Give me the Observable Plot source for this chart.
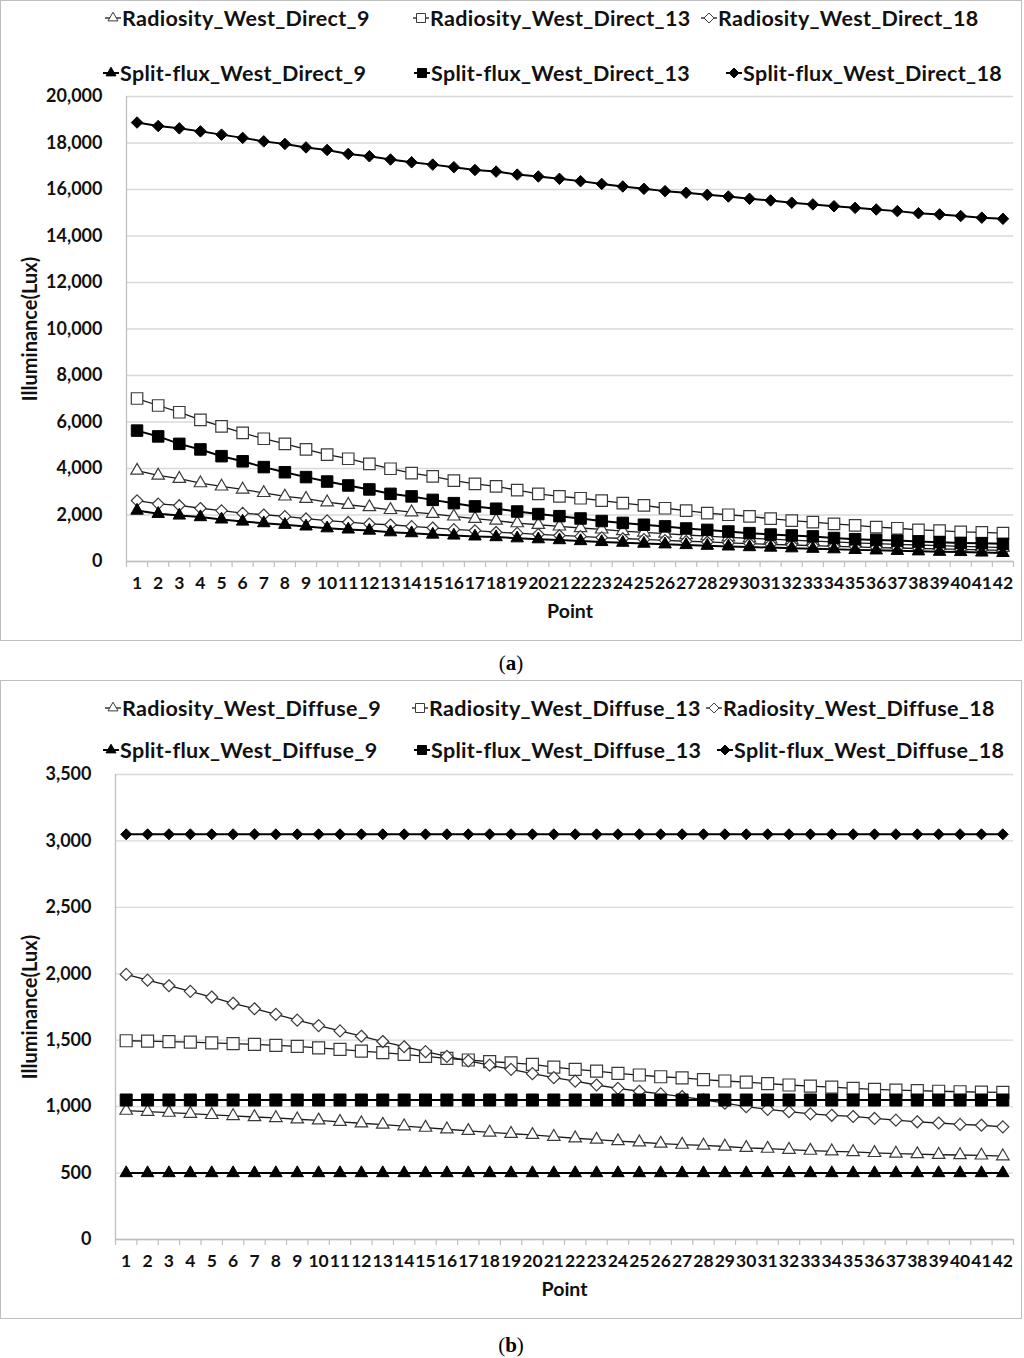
<!DOCTYPE html>
<html>
<head>
<meta charset="utf-8">
<script src="https://cdn.jsdelivr.net/npm/d3@7"></script>
<script src="https://cdn.jsdelivr.net/npm/@observablehq/plot@0.6"></script>
<style>
  body { margin: 0; background: #fff; font-family: Lato, "Open Sans", sans-serif; }
  .panel { position: absolute; left: 0; width: 1020px; border: 1px solid #bdbdbd; background: #fff; }
  .legend { position: relative; width: 1020px; }
  .item { position: absolute; display: flex; align-items: center; height: 24px; font-weight: 700; font-size: 21.5px; letter-spacing: 0.3px; color: #111; white-space: nowrap; }
  .item svg { display: block; flex: none; }
  .caption { position: absolute; left: 0; width: 1022px; text-align: center; font-family: "Liberation Serif", "DejaVu Serif", serif; font-size: 21px; line-height: 24px; color: #000; }
  .plotwrap svg { display: block; overflow: visible; }
</style>
</head>
<body>
<div class="panel" style="top:0;height:639px">
  <div class="legend" id="legendA" style="height:85px"></div>
  <div class="plotwrap" id="chartA"></div>
</div>
<div class="caption" style="top:651px">(<b>a</b>)</div>
<div class="panel" style="top:680px;height:637px">
  <div class="legend" id="legendB" style="height:80px"></div>
  <div class="plotwrap" id="chartB"></div>
</div>
<div class="caption" style="top:1333px">(<b>b</b>)</div>

<script>
// ---------------- DATA ----------------
const pointLabels = ["1","2","3","4","5","6","7","8","9","10","11","12","13","14","15","16","17","18","19","20","21",
  "22","23","24","25","26","27","28","29","30","31","32","33","34","35","36","37","38","39","40","41","42"];
const points = pointLabels.map(Number);

const yTicksDirect = [0, 2000, 4000, 6000, 8000, 10000, 12000, 14000, 16000, 18000, 20000];
const yTicksDiffuse = [0, 500, 1000, 1500, 2000, 2500, 3000, 3500];

const namesDirect = ["Radiosity_West_Direct_9", "Radiosity_West_Direct_13", "Radiosity_West_Direct_18",
  "Split-flux_West_Direct_9", "Split-flux_West_Direct_13", "Split-flux_West_Direct_18"];
const namesDiffuse = ["Radiosity_West_Diffuse_9", "Radiosity_West_Diffuse_13", "Radiosity_West_Diffuse_18",
  "Split-flux_West_Diffuse_9", "Split-flux_West_Diffuse_13", "Split-flux_West_Diffuse_18"];

// (a) Direct
const radDirect9 = [3910,3700,3560,3370,3230,3100,2950,2800,2700,2550,2440,2340,2220,2120,2050,1940,1840,1760,1650,1580,1510,
  1440,1380,1310,1250,1200,1140,1090,1040,1000,960,920,880,840,800,770,740,710,680,650,630,600];
const radDirect13 = [7010,6710,6420,6090,5810,5530,5280,5060,4820,4600,4420,4200,3990,3800,3660,3480,3340,3230,3070,2910,2800,
  2720,2620,2510,2410,2290,2190,2080,2010,1940,1840,1760,1690,1620,1550,1480,1430,1360,1330,1270,1250,1220];
const radDirect18 = [2620,2480,2410,2290,2190,2080,2010,1940,1840,1760,1690,1620,1580,1510,1450,1380,1330,1260,1220,1170,1120,
  1080,1030,990,950,910,870,840,800,770,740,710,680,650,630,600,580,560,540,520,500,480];
const splitDirect9 = [2190,2050,1980,1910,1810,1720,1650,1580,1510,1430,1380,1330,1260,1220,1160,1120,1080,1050,1000,960,920,
  880,840,810,770,740,710,680,650,620,600,570,550,530,500,480,460,440,420,410,390,370];
const splitDirect13 = [5630,5380,5060,4820,4530,4310,4060,3840,3630,3440,3270,3100,2910,2800,2650,2510,2370,2270,2150,2040,1950,
  1850,1740,1660,1580,1510,1420,1360,1290,1220,1160,1120,1080,1010,960,930,900,860,830,800,790,760];
const splitDirect18 = [18880,18730,18630,18500,18360,18220,18070,17960,17810,17700,17530,17430,17290,17170,17070,16960,16840,16770,16640,16560,16460,
  16360,16240,16130,16030,15930,15860,15770,15700,15600,15530,15430,15360,15280,15210,15140,15070,14980,14930,14860,14790,14740];

// (b) Diffuse
const radDiffuse9 = [970,962,955,947,938,930,922,915,905,897,886,875,865,853,842,830,818,806,796,788,774,
  762,752,741,732,722,714,708,700,690,684,676,669,664,659,652,647,643,638,636,633,627];
const radDiffuse13 = [1496,1493,1490,1486,1480,1474,1468,1461,1453,1443,1431,1418,1406,1393,1378,1364,1351,1339,1330,1318,1298,
  1281,1267,1251,1238,1225,1216,1204,1193,1184,1173,1163,1155,1147,1138,1130,1125,1121,1116,1112,1110,1107];
const radDiffuse18 = [1995,1952,1910,1868,1825,1778,1737,1695,1651,1610,1570,1530,1490,1451,1414,1378,1345,1313,1281,1248,1218,
  1192,1163,1138,1116,1096,1076,1052,1026,1000,980,962,946,935,926,911,898,886,877,866,860,848];
const splitDiffuse9 = [500,500,500,500,500,500,500,500,500,500,500,500,500,500,500,500,500,500,500,500,500,
  500,500,500,500,500,500,500,500,500,500,500,500,500,500,500,500,500,500,500,500,500];
const splitDiffuse13 = [1050,1050,1050,1050,1050,1050,1050,1050,1050,1050,1050,1050,1050,1050,1050,1050,1050,1050,1050,1050,1050,
  1050,1050,1050,1050,1050,1050,1050,1050,1050,1050,1050,1050,1050,1050,1050,1050,1050,1050,1050,1050,1050];
const splitDiffuse18 = [3050,3050,3050,3050,3050,3050,3050,3050,3050,3050,3050,3050,3050,3050,3050,3050,3050,3050,3050,3050,3050,
  3050,3050,3050,3050,3050,3050,3050,3050,3050,3050,3050,3050,3050,3050,3050,3050,3050,3050,3050,3050,3050];

// ---------------- STYLES ----------------
const seriesStyles = [
  {symbol: "triangle", fill: "#fff", stroke: "#3a3a3a", line: "#1a1a1a", lineWidth: 1.3},
  {symbol: "square",   fill: "#fff", stroke: "#3a3a3a", line: "#1a1a1a", lineWidth: 1.3},
  {symbol: "diamond2", fill: "#fff", stroke: "#3a3a3a", line: "#1a1a1a", lineWidth: 1.3},
  {symbol: "triangle", fill: "#000", stroke: "#000", line: "#000", lineWidth: 2},
  {symbol: "square",   fill: "#000", stroke: "#000", line: "#000", lineWidth: 2},
  {symbol: "diamond2", fill: "#000", stroke: "#000", line: "#000", lineWidth: 2}
];
const d3Symbols = {triangle: d3.symbolTriangle, square: d3.symbolSquare, diamond2: d3.symbolDiamond2};

// marker "width" in px -> d3 symbol area
function symbolArea(symbol, w) {
  if (symbol === "triangle") return w * w * Math.sqrt(3) / 4;
  if (symbol === "square") return w * w;
  return Math.pow(w / 1.2525, 2); // diamond2 diagonal
}
const radiusFor = (symbol, w) => Math.sqrt(symbolArea(symbol, w) / Math.PI);

// ---------------- LEGEND ----------------
function buildLegend(el, names, pos) {
  names.forEach((name, i) => {
    const st = seriesStyles[i];
    const [mx, cy] = pos[i];
    const item = d3.select(el).append("div").attr("class", "item")
      .style("left", (mx - 10) + "px").style("top", (cy - 12) + "px");
    const svg = item.append("svg").attr("width", 19).attr("height", 24);
    svg.append("line").attr("x1", 2).attr("x2", 18).attr("y1", 12).attr("y2", 12)
      .attr("stroke", st.line).attr("stroke-width", st.lineWidth);
    const w = st.symbol === "square" ? 9 : 10;
    svg.append("path").attr("transform", "translate(10,12)")
      .attr("d", d3.symbol(d3Symbols[st.symbol], symbolArea(st.symbol, w))())
      .attr("fill", st.fill).attr("stroke", st.stroke).attr("stroke-width", 1);
    item.append("span").text(name);
  });
}
buildLegend(document.getElementById("legendA"), namesDirect,
  [[112, 17], [420, 17], [708, 17], [110, 72], [421, 72], [733, 72]]);
buildLegend(document.getElementById("legendB"), namesDiffuse,
  [[112, 27], [419, 27], [713, 27], [110, 69], [421, 69], [724, 69]]);

// ---------------- CHARTS ----------------
const boundaries = d3.range(0.5, 43, 1);

function chart({names, values, yTicks, height, ml, mr, mt, mb, sizes, ylabelDx}) {
  const marks = [
    Plot.gridY(yTicks, {stroke: "#d9d9d9", strokeOpacity: 1, strokeWidth: 1.3}),
    Plot.ruleX([0.5], {stroke: "#bfbfbf", strokeWidth: 1.3}),
    Plot.ruleY([0], {stroke: "#bfbfbf", strokeWidth: 1.3}),
    Plot.axisX(boundaries, {tickSize: 6, tickFormat: () => "", stroke: "#bfbfbf", strokeWidth: 1.2, label: null}),
    Plot.axisX(points, {tickSize: 0, tickPadding: 15, tickFormat: d => pointLabels[d - 1],
      fontSize: 17.5, fontWeight: "bold", fill: "#111", label: null}),
    Plot.axisY(yTicks, {tickSize: 0, tickPadding: 24, tickFormat: d3.format(","),
      fontSize: 18, fontWeight: "bold", fill: "#111", label: null}),
    Plot.text(["Illuminance(Lux)"], {text: d => d, frameAnchor: "left", rotate: -90, dx: ylabelDx,
      fontSize: 20, fontWeight: "bold", fill: "#111", textAnchor: "middle"}),
    Plot.text(["Point"], {text: d => d, frameAnchor: "bottom", dy: 56,
      fontSize: 19.5, fontWeight: "bold", fill: "#111", textAnchor: "middle"})
  ];
  names.forEach((name, i) => {
    const st = seriesStyles[i];
    const rows = values[i].map((v, j) => ({point: points[j], value: v, series: name}));
    marks.push(Plot.line(rows, {x: "point", y: "value", stroke: st.line, strokeWidth: st.lineWidth}));
    marks.push(Plot.dot(rows, {x: "point", y: "value", symbol: () => st.symbol,
      r: radiusFor(st.symbol, sizes[st.symbol] + (i === 5 ? sizes.d18adj : 0)),
      fill: st.fill, stroke: st.stroke, strokeWidth: st.fill === "#fff" ? 1.2 : 1}));
  });
  return Plot.plot({
    width: 1020, height,
    marginLeft: ml, marginRight: mr, marginTop: mt, marginBottom: mb,
    x: {type: "linear", domain: [0.5, 42.5]},
    y: {domain: [yTicks[0], yTicks[yTicks.length - 1]]},
    symbol: {type: "identity"},
    style: {fontFamily: "Lato, 'Open Sans', sans-serif", fontWeight: "700", background: "transparent", overflow: "visible"},
    marks
  });
}

document.getElementById("chartA").append(chart({
  names: namesDirect,
  values: [radDirect9, radDirect13, radDirect18, splitDirect9, splitDirect13, splitDirect18],
  yTicks: yTicksDirect, height: 554, ml: 125, mr: 8, mt: 10, mb: 79,
  sizes: {triangle: 12.5, square: 11.5, diamond2: 11.5, d18adj: 0},
  ylabelDx: -96
}));
document.getElementById("chartB").append(chart({
  names: namesDiffuse,
  values: [radDiffuse9, radDiffuse13, radDiffuse18, splitDiffuse9, splitDiffuse13, splitDiffuse18],
  yTicks: yTicksDiffuse, height: 557, ml: 114, mr: 8, mt: 13, mb: 79,
  sizes: {triangle: 12.5, square: 12, diamond2: 12, d18adj: -1},
  ylabelDx: -85
}));
</script>
</body>
</html>
